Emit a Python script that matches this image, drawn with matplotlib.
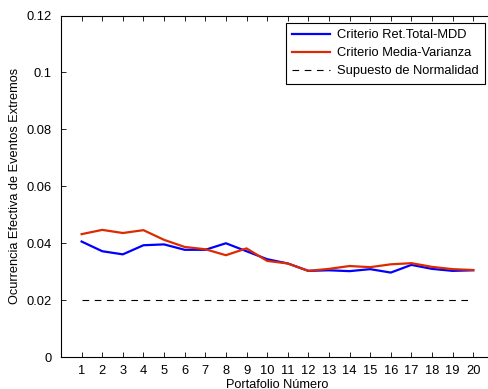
import matplotlib
matplotlib.use("Agg")
import matplotlib.pyplot as plt
import numpy as np

plt.rcParams['font.family'] = ['Liberation Sans', 'DejaVu Sans']
plt.rcParams['font.size'] = 9.3

# datos
portafolio = np.arange(1, 21)
ret_total_mdd = [0.0406, 0.0372, 0.0361, 0.0393, 0.0396, 0.0377, 0.0377, 0.0400, 0.0372, 0.0344,
                 0.0329, 0.0303, 0.0305, 0.0302, 0.0309, 0.0297, 0.0324, 0.0310, 0.0303, 0.0305]
media_varianza = [0.0432, 0.0447, 0.0436, 0.0446, 0.0412, 0.0387, 0.0379, 0.0358, 0.0382, 0.0338,
                  0.0329, 0.0303, 0.0310, 0.0320, 0.0316, 0.0326, 0.0330, 0.0317, 0.0309, 0.0306]
normalidad = [0.02] * 20

fig = plt.figure(figsize=(4.88, 3.89), dpi=100)
ax = fig.add_axes([0.125, 0.082, 0.887, 0.878])

ax.plot(portafolio, ret_total_mdd, color='#0000ff', lw=1.6, label='Criterio Ret.Total-MDD')
ax.plot(portafolio, media_varianza, color='#dd2a00', lw=1.6, label='Criterio Media-Varianza')
ax.plot(portafolio, normalidad, color='k', lw=0.8, ls=(0, (6, 5)), label='Supuesto de Normalidad')

ax.set_xlim(0, 21)
ax.set_ylim(0, 0.12)
ax.set_xticks(portafolio)
ax.set_yticks([0, 0.02, 0.04, 0.06, 0.08, 0.1, 0.12])
ax.set_yticklabels(['0', '0.02', '0.04', '0.06', '0.08', '0.1', '0.12'])
ax.tick_params(direction='in', top=True, right=True, length=3.5, width=0.6)
ax.tick_params(axis='x', pad=6)
ax.tick_params(axis='y', pad=6.5)
for s in ax.spines.values():
    s.set_linewidth(0.8)

ax.set_xlabel('Portafolio Número', fontsize=9.2, labelpad=1)
ax.set_ylabel('Ocurrencia Efectiva de Eventos Extremos', fontsize=9.2, labelpad=4)

leg = ax.legend(loc='upper left', bbox_to_anchor=(286 / 488, 1 - 23 / 389),
                bbox_transform=fig.transFigure, borderaxespad=0, fancybox=False,
                framealpha=1, edgecolor='k', handlelength=2.9, handletextpad=0.55,
                labelspacing=0.45, borderpad=0.5)
leg.get_frame().set_linewidth(0.8)

fig.savefig('out.png', dpi=100)
